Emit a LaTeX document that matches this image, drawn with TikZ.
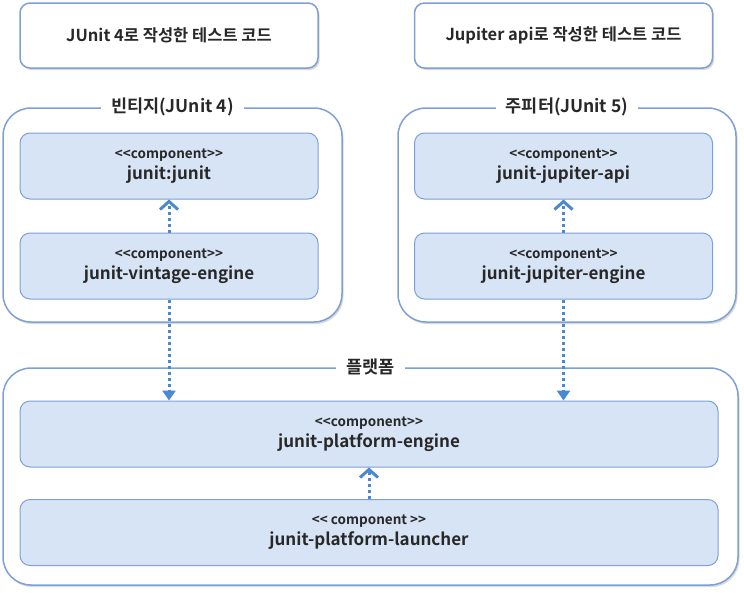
\documentclass[tikz,border=0pt]{standalone}
\usepackage{fontspec}
\setmainfont{Noto Sans CJK KR}[BoldFont={Noto Sans CJK KR Bold}]
\usetikzlibrary{positioning, arrows.meta, shadows}
\definecolor{boxfill}{RGB}{214,228,245}
\definecolor{boxline}{RGB}{126,160,216}
\definecolor{arrowblue}{RGB}{74,136,207}
\definecolor{textdark}{RGB}{40,40,40}

\newcommand{\stereo}[1]{{\fontsize{13.5}{15}\selectfont\bfseries #1}\\[2pt]}

\begin{document}
\begin{tikzpicture}[x=1pt, y=-1pt,
  every node/.style={text=textdark},
  softshadow/.style={drop shadow={shadow xshift=1.5pt, shadow yshift=-2pt, opacity=0.25, fill=black!60}},
  code/.style={draw=boxline, line width=1.5pt, rounded corners=10pt, fill=white, softshadow,
    minimum width=298pt, minimum height=65pt, align=center, font=\fontsize{16.5}{19}\selectfont\bfseries},
  comp/.style={draw=boxline, line width=1pt, rounded corners=10pt, fill=boxfill,
    minimum width=298pt, minimum height=66pt, align=center, font=\fontsize{17}{19}\selectfont\bfseries},
  group/.style={draw=boxline, line width=1.5pt, rounded corners=28pt, fill=white, softshadow},
  grouptitle/.style={fill=white, inner xsep=10pt, inner ysep=2pt, font=\fontsize{17.5}{20}\selectfont\bfseries},
  dep/.style={arrowblue, line width=3pt, dash pattern=on 3pt off 3pt,
    -{Straight Barb[length=8pt, width=18pt, line width=3pt]}},
  call/.style={arrowblue, line width=3pt, dash pattern=on 3pt off 3pt,
    -{Triangle[length=10pt, width=13pt]}}]
 \useasboundingbox (0,0) rectangle (744,592);

 % test code
 \node[code] (j4code) at (169,35.5)  {JUnit 4로 작성한 테스트 코드};
 \node[code] (j5code) at (563.5,35.5) {Jupiter api로 작성한 테스트 코드};

 % groups
 \node[group, minimum width=339pt, minimum height=214pt] (vintage) at (172.5,215) {};
 \node[grouptitle] (vintagetitle) at (vintage.north) {빈티지(JUnit 4)};
 \node[group, minimum width=338pt, minimum height=214pt] (jupiter) at (567,215) {};
 \node[grouptitle] (jupitertitle) at (jupiter.north) {주피터(JUnit 5)};
 \node[group, minimum width=735pt, minimum height=217pt] (platform) at (370.5,476.5) {};
 \node[grouptitle] (platformtitle) at (platform.north) {플랫폼};

 % components
 \node[comp] (junit)   at (169,166)   {\stereo{<{}<component>{}>}junit:junit};
 \node[comp] (vengine) at (169,266)   {\stereo{<{}<component>{}>}junit-vintage-engine};
 \node[comp] (japi)    at (563.5,166) {\stereo{<{}<component>{}>}junit-jupiter-api};
 \node[comp] (jengine) at (563.5,266) {\stereo{<{}<component>{}>}junit-jupiter-engine};
 \node[comp, minimum width=698pt] (pengine)   at (369,434) {\stereo{<{}<component>{}>}junit-platform-engine};
 \node[comp, minimum width=698pt] (plauncher) at (369,532.5) {\stereo{<{}< component >{}>}junit-platform-launcher};

 % dependencies
 \draw[dep] (vengine.north) -- (junit.south);
 \draw[dep] (jengine.north) -- (japi.south);
 \draw[dep] (plauncher.north) -- (pengine.south);
 \draw[call] (vengine.south) -- (vengine.south |- pengine.north);
 \draw[call] (jengine.south) -- (jengine.south |- pengine.north);
\end{tikzpicture}
\end{document}
